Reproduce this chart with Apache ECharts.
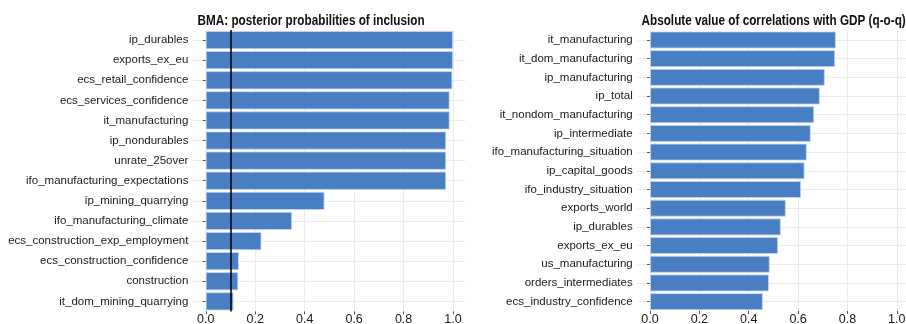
<!DOCTYPE html>
<html>
<head>
<meta charset="utf-8">
<script src="https://cdn.jsdelivr.net/npm/echarts@6/dist/echarts.min.js"></script>
<style>
  html, body { margin: 0; padding: 0; background: #fff; }
  #chart { width: 906px; height: 324px; }
</style>
</head>
<body>
<div id="chart"></div>
<script>
// Left panel: BMA posterior inclusion probabilities
const bmaVars = ['ip_durables', 'exports_ex_eu', 'ecs_retail_confidence', 'ecs_services_confidence',
  'it_manufacturing', 'ip_nondurables', 'unrate_25over', 'ifo_manufacturing_expectations',
  'ip_mining_quarrying', 'ifo_manufacturing_climate', 'ecs_construction_exp_employment',
  'ecs_construction_confidence', 'construction', 'it_dom_mining_quarrying'];
const bmaPip = [1.0, 1.0, 0.997, 0.986, 0.986, 0.972, 0.972, 0.972, 0.48, 0.349, 0.225, 0.134, 0.131, 0.112];
const pipThreshold = 0.1;

// Right panel: absolute correlation with quarter-on-quarter GDP growth
const corrVars = ['it_manufacturing', 'it_dom_manufacturing', 'ip_manufacturing', 'ip_total',
  'it_nondom_manufacturing', 'ip_intermediate', 'ifo_manufacturing_situation', 'ip_capital_goods',
  'ifo_industry_situation', 'exports_world', 'ip_durables', 'exports_ex_eu', 'us_manufacturing',
  'orders_intermediates', 'ecs_industry_confidence'];
const corrAbs = [0.753, 0.750, 0.708, 0.688, 0.665, 0.651, 0.635, 0.626, 0.612, 0.550, 0.530, 0.519, 0.485, 0.482, 0.457];

const xTicks = [0, 0.2, 0.4, 0.6, 0.8, 1.0];
const titles = ['BMA: posterior probabilities of inclusion', 'Absolute value of correlations with GDP (q-o-q)'];

const FONT = "'Liberation Sans', Arial, sans-serif";
const GRID_COLOR = '#ebebeb';
const TEXT_COLOR = '#1a1a1a';
const BAR_COLOR = '#4a7ec2';

function valueAxis(gridIndex) {
  return {
    type: 'value', gridIndex,
    min: -0.05, max: 1.05,
    axisLine: { show: false },
    axisTick: { show: true, length: 3, customValues: xTicks, lineStyle: { color: '#555' } },
    axisLabel: {
      customValues: xTicks, margin: 2,
      formatter: v => v.toFixed(1),
      color: TEXT_COLOR, fontFamily: FONT, fontSize: 12.5
    },
    splitLine: { show: true, lineStyle: { color: GRID_COLOR, width: 1 } }
  };
}

function categoryAxis(gridIndex, names) {
  return {
    type: 'category', gridIndex, data: names, inverse: true,
    axisLine: { show: false },
    axisTick: { show: true, alignWithLabel: true, length: 3, lineStyle: { color: '#555' } },
    axisLabel: { margin: 5, color: TEXT_COLOR, fontFamily: FONT, fontSize: 11.5, interval: 0 },
    splitLine: { show: true, alignWithLabel: true, lineStyle: { color: GRID_COLOR, width: 1 } }
  };
}

// Condensed bold panel headings
function heading(text, x) {
  return {
    type: 'text', x, y: 21, scaleX: 0.81, silent: true,
    style: {
      text, fill: '#111', verticalAlign: 'middle', align: 'left',
      font: "bold 14.5px 'Liberation Sans', Arial, sans-serif"
    }
  };
}

const barStyle = { color: BAR_COLOR, borderColor: '#c9d9ee', borderWidth: 0.8 };

const option = {
  animation: false,
  backgroundColor: '#ffffff',
  graphic: [heading(titles[0], 197.5), heading(titles[1], 641.5)],
  grid: [
    { left: 193.4, top: 30, width: 272, height: 281.4, outerBoundsMode: 'none', containLabel: false },
    { left: 637.7, top: 30.6, width: 271.4, height: 280.4, outerBoundsMode: 'none', containLabel: false }
  ],
  xAxis: [valueAxis(0), valueAxis(1)],
  yAxis: [categoryAxis(0, bmaVars), categoryAxis(1, corrVars)],
  series: [
    {
      type: 'bar', xAxisIndex: 0, yAxisIndex: 0, data: bmaPip,
      barWidth: '90%', itemStyle: barStyle,
      markLine: {
        silent: true, symbol: 'none', label: { show: false },
        lineStyle: { color: '#000', width: 1.5, type: 'solid' },
        data: [{ xAxis: pipThreshold }]
      }
    },
    {
      type: 'bar', xAxisIndex: 1, yAxisIndex: 1, data: corrAbs,
      barWidth: '90%', itemStyle: barStyle
    }
  ]
};

const chart = echarts.init(document.getElementById('chart'), null, { renderer: 'canvas' });
chart.setOption(option);
</script>
</body>
</html>
